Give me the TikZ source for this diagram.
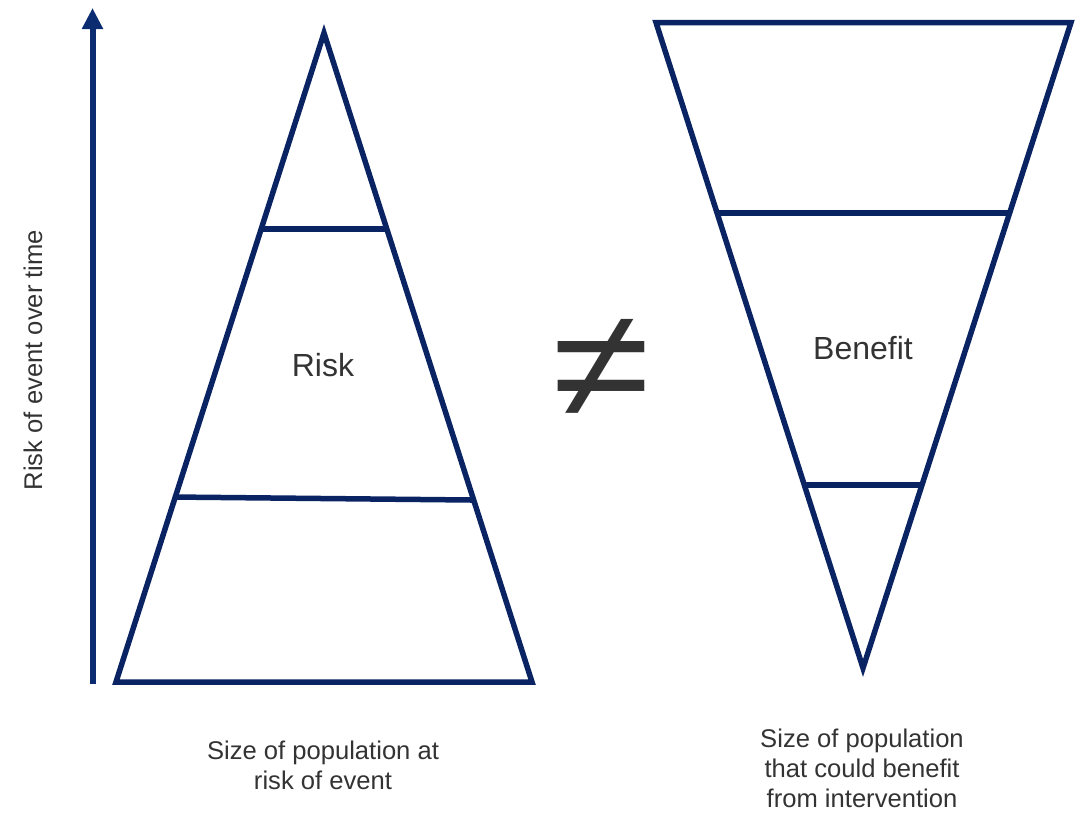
\documentclass[tikz,border=0pt]{standalone}
\usepackage{fontspec}
\setmainfont{Liberation Sans}
\usetikzlibrary{arrows.meta,calc}
\definecolor{navy}{HTML}{0A2463}
\definecolor{arrowblue}{HTML}{0C2C72}
\definecolor{txt}{HTML}{333333}
\begin{document}
\begin{tikzpicture}[x=1pt,y=-1pt,
  outline/.style={draw=navy,line width=5.5pt,line join=miter},
  band/.style={draw=navy,line width=5.5pt},
  lbl/.style={text=txt,font=\fontsize{25.6}{30}\selectfont,align=center,inner sep=0pt},
  big/.style={text=txt,font=\fontsize{32}{38}\selectfont,inner sep=0pt}]
\useasboundingbox (0,0) rectangle (1081,812);
% left triangle
\coordinate (la) at (324,33);
\coordinate (lb) at (116,682);
\coordinate (lc) at (532,682);
\draw[outline] (la) -- (lb) -- (lc) -- cycle;
\coordinate (l1a) at ($(la)!0.302!(lb)$);
\coordinate (l1b) at ($(la)!0.302!(lc)$);
\coordinate (l2a) at ($(la)!0.715!(lb)$);
\coordinate (l2b) at ($(la)!0.7196!(lc)$);
\draw[band] (l1a) -- (l1b);
\draw[band] (l2a) -- (l2b);
% right triangle
\coordinate (ra) at (656,22.5);
\coordinate (rb) at (1071,22.5);
\coordinate (rc) at (863,668);
\draw[outline] (ra) -- (rb) -- (rc) -- cycle;
\coordinate (r1a) at ($(ra)!0.295!(rc)$);
\coordinate (r1b) at ($(rb)!0.295!(rc)$);
\coordinate (r2a) at ($(ra)!0.7165!(rc)$);
\coordinate (r2b) at ($(rb)!0.7165!(rc)$);
\draw[band] (r1a) -- (r1b);
\draw[band] (r2a) -- (r2b);
% axis arrow
\coordinate (ab) at (92.5,684);
\coordinate (at) at (92.5,8);
\draw[arrowblue,line width=6pt,-{Triangle[width=20pt,length=21pt]}] (ab) -- (at);
% texts
\node[big] (risk) at (323,365) {Risk};
\node[big] (benefit) at (863,348) {Benefit};
\node[text=txt,font=\fontsize{155}{155}\selectfont,inner sep=0pt] (neq) at (601,368) {\scalebox{1.15}[1]{≠}};
\node[lbl,rotate=90] (yaxis) at (33,360) {Risk of event over time};
\node[lbl] (lcap) at (323,765) {Size of population at\\risk of event};
\node[lbl] (rcap) at (862,768) {Size of population\\that could benefit\\from intervention};
\end{tikzpicture}
\end{document}
